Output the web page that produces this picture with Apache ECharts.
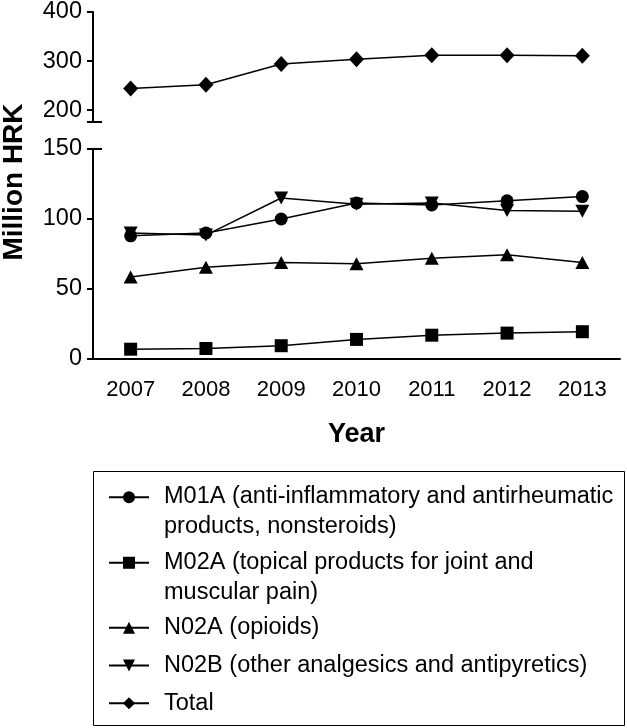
<!DOCTYPE html>
<html>
<head>
<meta charset="utf-8">
<script src="https://cdn.jsdelivr.net/npm/echarts@6/dist/echarts.min.js"></script>
<style>
html, body { margin: 0; padding: 0; background: #fff; }
#chartArea { width: 627px; height: 728px; }
</style>
</head>
<body>
<div id="chartArea"></div>
<script>
// data (million HRK)
var years = ['2007', '2008', '2009', '2010', '2011', '2012', '2013'];
var m01a = [88, 90, 100, 111.5, 110, 113, 116];
var m02a = [7, 7.5, 9.5, 14, 17, 18.5, 19.5];
var n02a = [58.5, 65.5, 69, 68, 72, 74.5, 69];
var n02b = [90, 88.5, 115, 110.5, 111.5, 106, 105.5];
var total = [244, 252, 294, 304, 312, 312, 311];

var topTicks = [200, 300, 400];
var topMin = 176;
var bottomMax = 150;

var names = [
    'M01A (anti-inflammatory and antirheumatic products, nonsteroids)',
    'M02A (topical products for joint and muscular pain)',
    'N02A (opioids)',
    'N02B (other analgesics and antipyretics)',
    'Total'
];
var legendLabels = {};
legendLabels[names[0]] = '{a|M01A (anti-inflammatory and antirheumatic}\n{b|products, nonsteroids)}';
legendLabels[names[1]] = '{a|M02A (topical products for joint and}\n{b|muscular pain)}';
legendLabels[names[2]] = '{c|N02A (opioids)}';
legendLabels[names[3]] = '{d|N02B (other analgesics and antipyretics)}';
legendLabels[names[4]] = '{c|Total}';

var font = "'Liberation Sans', Arial, sans-serif";
var gridLeft = 93;

var chartDom = document.getElementById('chartArea');
var myChart = echarts.init(chartDom);

function lineSeries(name, data, symbol, size, rotate, axis) {
    return {
        name: name,
        type: 'line',
        data: data,
        xAxisIndex: axis,
        yAxisIndex: axis,
        symbol: symbol,
        symbolSize: size,
        symbolRotate: rotate,
        showSymbol: true,
        animation: false,
        lineStyle: { color: '#000', width: 1.5 },
        itemStyle: { color: '#000' }
    };
}

var legendFont = { fontSize: 23.5, fontFamily: font, color: '#000' };

var option = {
    animation: false,
    grid: [
        { left: gridLeft, right: 7, top: 10, height: 112 },
        { left: gridLeft, right: 7, top: 149, bottom: 369 }
    ],
    xAxis: [
        { type: 'category', gridIndex: 0, data: years, show: false, boundaryGap: true },
        {
            type: 'category', gridIndex: 1, data: years, boundaryGap: true,
            axisLine: { lineStyle: { color: '#000', width: 2 } },
            axisTick: { alignWithLabel: true, length: 8, lineStyle: { color: '#000', width: 2 } },
            axisLabel: { margin: 20, color: '#000', fontSize: 22, fontFamily: font },
            name: 'Year', nameLocation: 'middle', nameGap: 62,
            nameTextStyle: { color: '#000', fontSize: 27, fontWeight: 'bold', fontFamily: font }
        }
    ],
    yAxis: [
        {
            type: 'value', gridIndex: 0, min: topMin, max: 400,
            splitLine: { show: false },
            axisLine: { show: true, lineStyle: { color: '#000', width: 2 } },
            axisTick: { show: true, length: 6, customValues: topTicks, lineStyle: { color: '#000', width: 2 } },
            axisLabel: { margin: 11, customValues: topTicks, color: '#000', fontSize: 23.5, fontFamily: font }
        },
        {
            type: 'value', gridIndex: 1, min: 0, max: bottomMax, interval: 50,
            splitLine: { show: false },
            axisLine: { show: true, lineStyle: { color: '#000', width: 2 } },
            axisTick: { show: true, length: 6, lineStyle: { color: '#000', width: 2 } },
            axisLabel: { margin: 11, color: '#000', fontSize: 23.5, fontFamily: font }
        }
    ],
    legend: {
        orient: 'vertical',
        left: gridLeft,
        top: 484.75,
        itemWidth: 40,
        itemHeight: 15,
        itemGap: 11.5,
        padding: [0, 11, 0, 15],
        selectedMode: false,
        data: names,
        formatter: function (name) { return legendLabels[name]; },
        textStyle: {
            color: '#000', fontSize: 23.5, fontFamily: font, padding: [0, 0, 0, 10],
            rich: {
                a: Object.assign({ lineHeight: 59 }, legendFont),
                b: Object.assign({ lineHeight: 1 }, legendFont),
                c: Object.assign({}, legendFont),
                d: Object.assign({ padding: [2.25, 0, 2.25, 0], backgroundColor: 'rgba(255,255,255,0)' }, legendFont)
            }
        }
    },
    series: [
        lineSeries(names[0], m01a, 'circle', 13, 0, 1),
        lineSeries(names[1], m02a, 'rect', 13, 0, 1),
        lineSeries(names[2], n02a, 'triangle', [14, 13], 0, 1),
        lineSeries(names[3], n02b, 'triangle', [14, 13], 180, 1),
        lineSeries(names[4], total, 'diamond', [15, 16], 0, 0)
    ]
};

option && myChart.setOption(option);

// break caps on the y axis, legend frame and the rotated axis title
var yBreakTop = myChart.convertToPixel({ yAxisIndex: 0 }, topMin);
var yBreakBottom = myChart.convertToPixel({ yAxisIndex: 1 }, bottomMax);
myChart.setOption({
    graphic: [
        {
            type: 'line',
            shape: { x1: gridLeft - 6, y1: yBreakTop, x2: gridLeft + 9, y2: yBreakTop },
            style: { stroke: '#000', lineWidth: 2 }
        },
        {
            type: 'line',
            shape: { x1: gridLeft - 6, y1: yBreakBottom, x2: gridLeft + 9, y2: yBreakBottom },
            style: { stroke: '#000', lineWidth: 2 }
        },
        {
            type: 'rect',
            shape: { x: gridLeft + 0.5, y: 471.5, width: 531, height: 254 },
            style: { fill: 'none', stroke: '#000', lineWidth: 1 }
        },
        {
            type: 'text',
            x: 14,
            y: 182,
            rotation: Math.PI / 2,
            style: {
                text: 'Million HRK',
                fill: '#000',
                fontSize: 28,
                fontWeight: 'bold',
                fontFamily: font,
                align: 'center',
                verticalAlign: 'middle'
            }
        }
    ]
});
</script>
</body>
</html>
